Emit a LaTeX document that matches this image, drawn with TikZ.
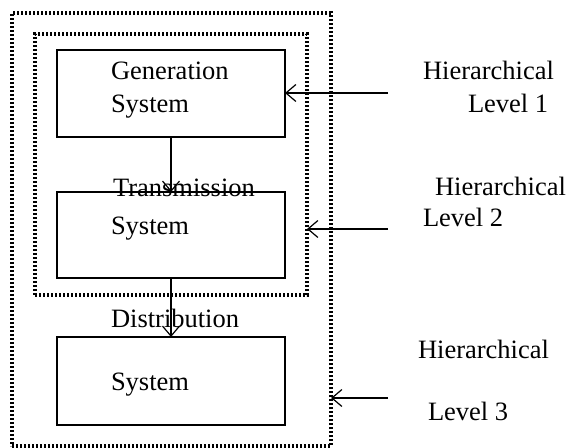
\documentclass[tikz,border=0pt]{standalone}
\usepackage{fontspec}
\setmainfont{Liberation Serif}
\usetikzlibrary{arrows.meta}
\begin{document}
\begin{tikzpicture}[x=0.5pt,y=-0.5pt,
  every node/.style={inner sep=0pt,outer sep=0pt},
  sysbox/.style={draw,line width=0.8pt,anchor=north west,minimum width=114pt},
  dotbox/.style={draw,line width=1.6pt,dash pattern=on 1.2pt off 0.8pt,anchor=north west},
  lbl/.style={anchor=base west,font=\fontsize{13.25pt}{16pt}\selectfont},
  arr/.style={line width=0.6pt,-{Straight Barb[length=5pt,width=8.5pt,line width=0.6pt]}}]
\useasboundingbox (0,0) rectangle (567,448);
% dotted boxes
\node[dotbox,minimum width=159.5pt,minimum height=216.5pt] (outer) at (12,13) {};
\node[dotbox,minimum width=136pt,minimum height=130.5pt] (inner) at (35,34) {};
% system boxes
\node[sysbox,minimum height=43.5pt] (gen) at (57,50) {};
\node[sysbox,minimum height=43pt] (trans) at (57,192) {};
\node[sysbox,minimum height=44pt] (dist) at (57,337) {};
% box texts
\node[lbl] (t1) at (111,80) {Generation};
\node[lbl] (t2) at (111,113) {System};
\node[lbl] (t3) at (113,197) {Transmission};
\node[lbl] (t4) at (111,235) {System};
\node[lbl] (t5) at (111,328) {Distribution};
\node[lbl] (t6) at (111,390) {System};
% level texts
\node[lbl] (h1) at (423,80) {Hierarchical};
\node[lbl] (l1) at (468,113) {Level 1};
\node[lbl] (h2) at (435,196) {Hierarchical};
\node[lbl] (l2) at (423,227) {Level 2};
\node[lbl] (h3) at (418,358) {Hierarchical};
\node[lbl] (l3) at (428,420) {Level 3};
% connectors
\draw[arr] (gen.south) -- (trans.north);
\draw[arr] (trans.south) -- (dist.north);
\coordinate (a1) at (388,93);
\coordinate (a2) at (388,229);
\coordinate (a3) at (388,398);
\draw[arr] (a1) -- (gen.east |- a1);
\draw[arr] (a2) -- (inner.east |- a2);
\draw[arr] (a3) -- (outer.east |- a3);
\end{tikzpicture}
\end{document}
